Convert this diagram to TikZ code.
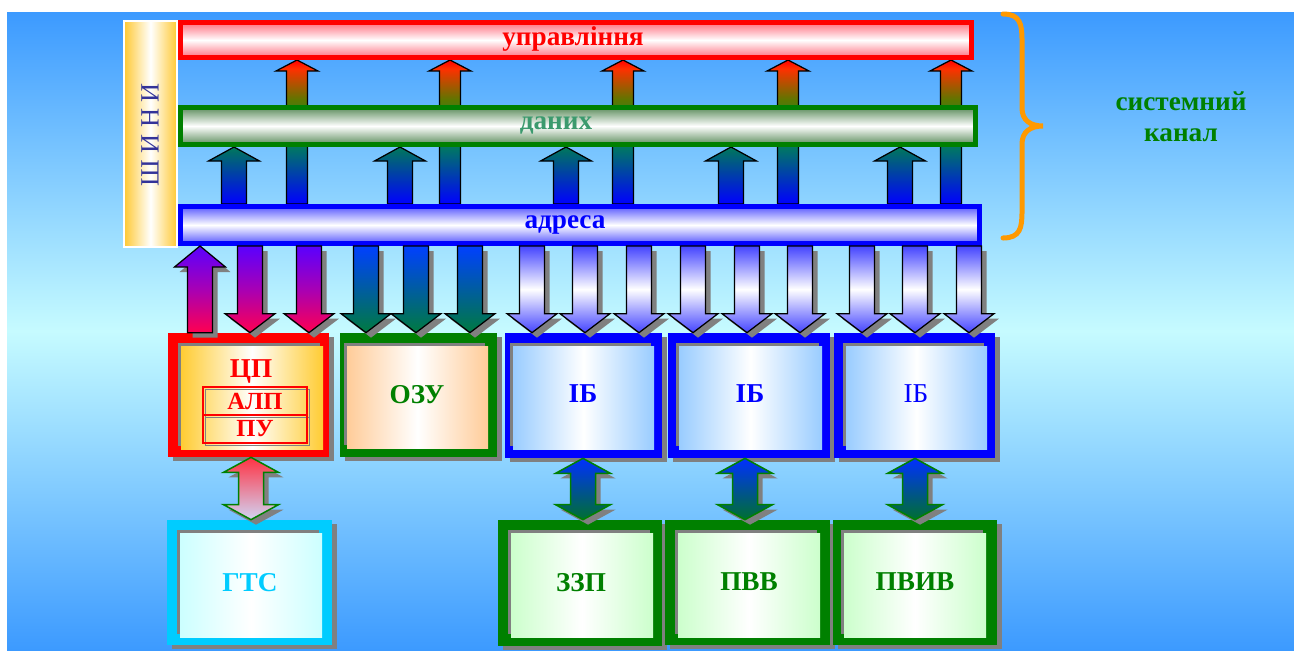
\documentclass[tikz,border=0pt]{standalone}
\usepackage{fontspec}
\setmainfont{Liberation Serif}
\usetikzlibrary{calc,fit,positioning,shadows}

\definecolor{skyblue}{HTML}{3C9AFF}
\definecolor{skycyan}{HTML}{C6FBFF}
\definecolor{ctlred}{HTML}{FF0000}
\definecolor{ctledge}{HTML}{FF6F80}
\definecolor{datgreen}{HTML}{008000}
\definecolor{datedge}{HTML}{5E8E5E}
\definecolor{dattext}{HTML}{3C9A6E}
\definecolor{datteal}{HTML}{00785A}
\definecolor{adrblue}{HTML}{0000FF}
\definecolor{adredge}{HTML}{5A5AFF}
\definecolor{shinyblue}{HTML}{333399}
\definecolor{shinyorange}{HTML}{FFC933}
\definecolor{shadowgray}{HTML}{808080}
\definecolor{cpuorange}{HTML}{FFCC33}
\definecolor{rampeach}{HTML}{FFCC99}
\definecolor{iblight}{HTML}{99CCFF}
\definecolor{gtscyan}{HTML}{00CCFF}
\definecolor{gtsfill}{HTML}{CCFFFF}
\definecolor{devfill}{HTML}{CCFFCC}
\definecolor{bracecol}{HTML}{FF9900}
\definecolor{cpuviolet}{HTML}{5A00FF}
\definecolor{cpumagenta}{HTML}{A800B4}
\definecolor{cpupink}{HTML}{FF0050}
\definecolor{ramblue}{HTML}{0040FF}
\definecolor{ramgreen}{HTML}{007A40}
\definecolor{ibblue}{HTML}{4444FF}
\definecolor{ctlteal}{HTML}{007468}
\definecolor{ctlolive}{HTML}{5A7800}
\definecolor{ctlorange}{HTML}{FF3000}
\definecolor{lnkred}{HTML}{FF3344}
\definecolor{lnklav}{HTML}{D0D4F4}
\definecolor{lnkblue}{HTML}{0030FF}
\definecolor{lnkgreen}{HTML}{007030}

\pgfdeclareverticalshading{ctlshade}{100bp}{color(0bp)=(adrblue); color(25bp)=(adrblue); color(44bp)=(ctlteal); color(61bp)=(ctlolive); color(72bp)=(ctlorange); color(75bp)=(ctlred); color(100bp)=(ctlred)}

\pgfdeclarelayer{sky}
\pgfdeclarelayer{under}
\pgfsetlayers{sky,under,main}

\newcommand{\blockarrow}[7][]{%
  \coordinate (ba-s) at (#2,0 |- #3);
  \coordinate (ba-t) at (#2,0 |- #4);
  \coordinate (ba-h) at ($(ba-t)!#7!(ba-s)$);
  \draw[#1] ($(ba-s)!#5!90:(ba-t)$) -- ($(ba-h)!#5!90:(ba-t)$) -- ($(ba-h)!#6!90:(ba-t)$) -- (ba-t)
    -- ($(ba-h)!#6!-90:(ba-t)$) -- ($(ba-h)!#5!-90:(ba-t)$) -- ($(ba-s)!#5!-90:(ba-t)$) -- cycle;
}
\newcommand{\linkarrow}[7][]{%
  \coordinate (la-a) at (#2,0 |- #3);
  \coordinate (la-b) at (#2,0 |- #4);
  \coordinate (la-ha) at ($(la-a)!#7!(la-b)$);
  \coordinate (la-hb) at ($(la-b)!#7!(la-a)$);
  \draw[#1] (la-a) -- ($(la-ha)!#6!90:(la-b)$) -- ($(la-ha)!#5!90:(la-b)$) -- ($(la-hb)!#5!-90:(la-a)$) -- ($(la-hb)!#6!-90:(la-a)$) -- (la-b)
    -- ($(la-hb)!#6!90:(la-a)$) -- ($(la-hb)!#5!90:(la-a)$) -- ($(la-ha)!#5!-90:(la-b)$) -- ($(la-ha)!#6!-90:(la-b)$) -- cycle;
}

\tikzset{
  panel/.style={draw=white, line width=0.04cm, inner sep=0pt, left color=shinyorange, right color=shinyorange, middle color=white},
  bus/.style 2 args={draw=#1, line width=0.1cm, inner sep=0pt, top color=#2, bottom color=#2, middle color=white},
  bustext/.style={font=\fontsize{15.5}{17.6}\selectfont\bfseries, inner sep=0pt, anchor=base},
  lbl/.style={font=\fontsize{15.5}{17.6}\selectfont\bfseries, inner sep=0pt, anchor=base},
  boxframe/.style={fill=#1, inner sep=0pt, drop shadow={shadow xshift=0.1cm, shadow yshift=-0.08cm, fill=shadowgray, opacity=1}},
  pane/.style={inner sep=0pt, left color=#1, right color=#1, middle color=white, general shadow={shadow xshift=-0.06cm, shadow yshift=0.06cm, fill=shadowgray}},
  subbox/.style={draw=ctlred, line width=0.035cm, inner sep=0pt, outer sep=0pt, minimum width=2.08cm, minimum height=0.56cm, text=ctlred, font=\fontsize{14}{16}\selectfont\bfseries, general shadow={draw=shadowgray, shadow xshift=0.05cm, shadow yshift=-0.05cm}},
  arrowshadow/.style={drop shadow={shadow xshift=0.1cm, shadow yshift=-0.1cm, fill=shadowgray, opacity=1}},
  datarrow/.style={draw=black, line width=0.025cm, top color=datteal, bottom color=adrblue},
  ctlarrow/.style={draw=black, line width=0.025cm, shade, shading=ctlshade},
  cpuarrow/.style={arrowshadow, draw=black, line width=0.025cm, top color=cpuviolet, bottom color=cpupink, middle color=cpumagenta},
  ramarrow/.style={arrowshadow, draw=black, line width=0.025cm, top color=ramblue, bottom color=ramgreen},
  ibarrow/.style={arrowshadow, draw=black, line width=0.025cm, top color=ibblue, bottom color=ibblue, middle color=white},
  cpulink/.style={arrowshadow, draw=datgreen, line width=0.03cm, top color=lnkred, bottom color=lnklav},
  devlink/.style={arrowshadow, draw=datgreen, line width=0.03cm, top color=lnkblue, bottom color=lnkgreen}
}

\begin{document}
\begin{tikzpicture}[x=0.02cm, y=-0.02cm]
          \useasboundingbox (0,0) rectangle (1294,650);
          \begin{pgfonlayer}{sky}
            \fill[white] (0,0) rectangle (1294,650);
            \shade[top color=skyblue, bottom color=skyblue, middle color=skycyan] (7,12) rectangle (1294,650);
          \end{pgfonlayer}

          \node[panel, fit={(124,21) (177,247)}] (bus) {};
          \node[font=\fontsize{15}{18}\selectfont, text=shinyblue, rotate=90, inner sep=0pt] (buslbl) at (150,135) {Ш И Н И};

          \node[bus={ctlred}{ctledge}, fit={(180.5,22.5) (971.5,57.5)}] (ctl) {};
          \node[bus={datgreen}{datedge}, fit={(180.5,107.5) (975.5,144.5)}] (dat) {};
          \node[bus={adrblue}{adredge}, fit={(180.5,206.5) (979.5,243.5)}] (adr) {};

          \node[bustext, text=ctlred] (ctllbl) at (573,45) {управління};
          \node[bustext, text=dattext] (datlbl) at (556,129) {даних};
          \node[bustext, text=adrblue] (adrlbl) at (565,228) {адреса};

          \begin{pgfonlayer}{under}
            \blockarrow[ctlarrow]{297}{adr.north}{ctl.south}{0.21cm}{0.42cm}{0.22cm}
            \blockarrow[ctlarrow]{450}{adr.north}{ctl.south}{0.21cm}{0.42cm}{0.22cm}
            \blockarrow[ctlarrow]{623}{adr.north}{ctl.south}{0.21cm}{0.42cm}{0.22cm}
            \blockarrow[ctlarrow]{788}{adr.north}{ctl.south}{0.21cm}{0.42cm}{0.22cm}
            \blockarrow[ctlarrow]{951}{adr.north}{ctl.south}{0.21cm}{0.42cm}{0.22cm}

            \blockarrow[datarrow]{234}{adr.north}{dat.south}{0.25cm}{0.51cm}{0.28cm}
            \blockarrow[datarrow]{400}{adr.north}{dat.south}{0.25cm}{0.51cm}{0.28cm}
            \blockarrow[datarrow]{566}{adr.north}{dat.south}{0.25cm}{0.51cm}{0.28cm}
            \blockarrow[datarrow]{731}{adr.north}{dat.south}{0.25cm}{0.51cm}{0.28cm}
            \blockarrow[datarrow]{900}{adr.north}{dat.south}{0.25cm}{0.51cm}{0.28cm}
          \end{pgfonlayer}

          \node[boxframe=ctlred, fit={(168,333) (329,457)}] (cpu) {};
          \node[pane=cpuorange, fit={(181,346) (323,449)}] (cpuin) {};
          \node[boxframe=datgreen, fit={(340,333) (497,457)}] (ram) {};
          \node[pane=rampeach, fit={(347,346) (488,448)}] (ramin) {};
          \node[boxframe=adrblue, fit={(505,333) (662,458)}] (ib1) {};
          \node[pane=iblight, fit={(513,346) (654,449)}] (ib1in) {};
          \node[boxframe=adrblue, fit={(668,333) (830,458)}] (ib2) {};
          \node[pane=iblight, fit={(679,346) (822,449)}] (ib2in) {};
          \node[boxframe=adrblue, fit={(834,333) (995,458)}] (ib3) {};
          \node[pane=iblight, fit={(846,346) (987,449)}] (ib3in) {};

          \node[boxframe=gtscyan, fit={(167,520) (332,645)}] (gts) {};
          \node[pane=gtsfill, fit={(180,533) (322,637)}] (gtsin) {};
          \node[boxframe=datgreen, fit={(498,520) (662,646)}] (zzp) {};
          \node[pane=devfill, fit={(511,533) (653,637)}] (zzpin) {};
          \node[boxframe=datgreen, fit={(665,520) (830,645)}] (pvv) {};
          \node[pane=devfill, fit={(678,533) (820,637)}] (pvvin) {};
          \node[boxframe=datgreen, fit={(833,520) (997,645)}] (pviv) {};
          \node[pane=devfill, fit={(844,533) (986,637)}] (pvivin) {};

          \node[lbl, text=ctlred] (cpulbl) at (251,377) {ЦП};
          \node[subbox] (alu) at (255,401) {АЛП};
          \node[subbox, below=0pt of alu] (cu) {ПУ};
          \node[lbl, text=datgreen] (ramlbl) at (417,403) {ОЗУ};
          \node[lbl, text=adrblue] (ib1lbl) at (583,402) {ІБ};
          \node[lbl, text=adrblue] (ib2lbl) at (750,402) {ІБ};
          \node[lbl, text=adrblue, font=\fontsize{15.5}{17.6}\selectfont] (ib3lbl) at (916,402) {ІБ};
          \node[lbl, text=gtscyan] (gtslbl) at (250,591) {ГТС};
          \node[lbl, text=datgreen] (zzplbl) at (581,591) {ЗЗП};
          \node[lbl, text=datgreen] (pvvlbl) at (749,590) {ПВВ};
          \node[lbl, text=datgreen] (pvivlbl) at (915,590) {ПВИВ};

          \blockarrow[cpuarrow]{200}{cpu.north}{adr.south}{0.25cm}{0.51cm}{0.42cm}
          \blockarrow[cpuarrow]{250}{adr.south}{cpu.north}{0.25cm}{0.5cm}{0.38cm}
          \blockarrow[cpuarrow]{309}{adr.south}{cpu.north}{0.25cm}{0.5cm}{0.38cm}
          \blockarrow[ramarrow]{366}{adr.south}{ram.north}{0.25cm}{0.5cm}{0.38cm}
          \blockarrow[ramarrow]{416}{adr.south}{ram.north}{0.25cm}{0.5cm}{0.38cm}
          \blockarrow[ramarrow]{470}{adr.south}{ram.north}{0.25cm}{0.5cm}{0.38cm}
          \blockarrow[ibarrow]{532}{adr.south}{ib1.north}{0.25cm}{0.5cm}{0.38cm}
          \blockarrow[ibarrow]{585}{adr.south}{ib1.north}{0.25cm}{0.5cm}{0.38cm}
          \blockarrow[ibarrow]{639}{adr.south}{ib1.north}{0.25cm}{0.5cm}{0.38cm}
          \blockarrow[ibarrow]{693}{adr.south}{ib2.north}{0.25cm}{0.5cm}{0.38cm}
          \blockarrow[ibarrow]{747}{adr.south}{ib2.north}{0.25cm}{0.5cm}{0.38cm}
          \blockarrow[ibarrow]{800}{adr.south}{ib2.north}{0.25cm}{0.5cm}{0.38cm}
          \blockarrow[ibarrow]{862}{adr.south}{ib3.north}{0.25cm}{0.5cm}{0.38cm}
          \blockarrow[ibarrow]{915}{adr.south}{ib3.north}{0.25cm}{0.5cm}{0.38cm}
          \blockarrow[ibarrow]{969}{adr.south}{ib3.north}{0.25cm}{0.5cm}{0.38cm}

          \linkarrow[cpulink]{251}{cpu.south}{gts.north}{0.25cm}{0.55cm}{0.3cm}
          \linkarrow[devlink]{583}{ib1.south}{zzp.north}{0.25cm}{0.55cm}{0.3cm}
          \linkarrow[devlink]{745}{ib2.south}{pvv.north}{0.25cm}{0.55cm}{0.3cm}
          \linkarrow[devlink]{915}{ib3.south}{pviv.north}{0.25cm}{0.55cm}{0.3cm}

          \draw[bracecol, line width=0.1cm, line cap=round] (1003,14) .. controls (1020,14) and (1022,24) .. (1022,40) -- (1022,108) .. controls (1022,120) and (1030,126) .. (1043,126) .. controls (1030,126) and (1022,132) .. (1022,144) -- (1022,212) .. controls (1022,228) and (1020,238) .. (1003,238);
          \node[lbl, anchor=center, align=center, text=datgreen] (chanlbl) at (1181,117) {системний\\канал};
\end{tikzpicture}
\end{document}
